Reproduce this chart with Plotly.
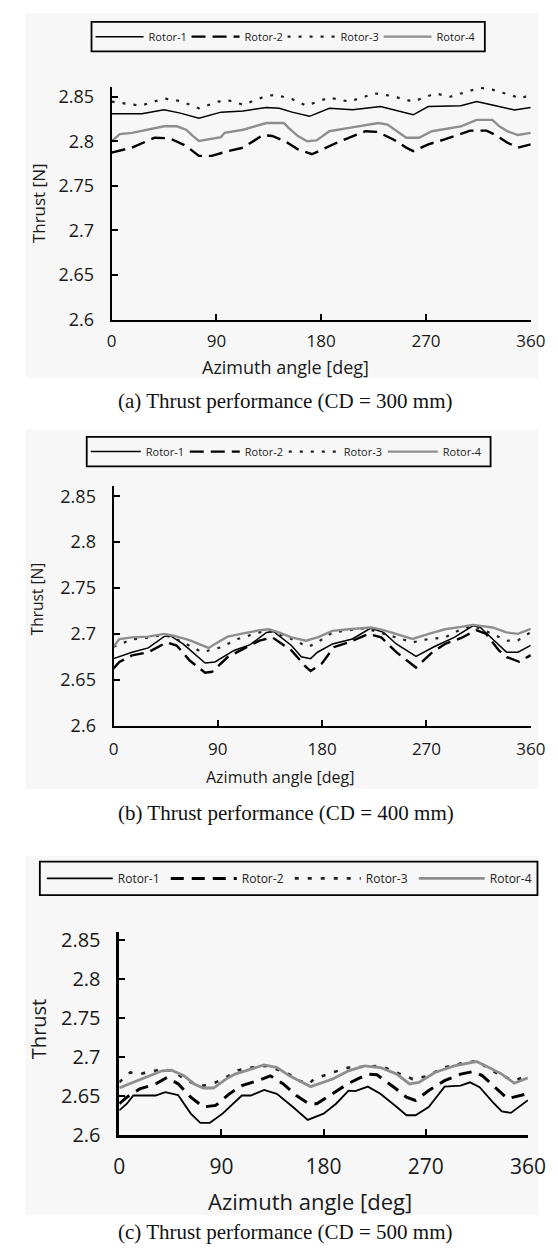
import plotly.graph_objects as go

# ---------------- data ----------------
rotor_names = ["Rotor-1", "Rotor-2", "Rotor-3", "Rotor-4"]
x_tick_vals = [0, 90, 180, 270, 360]
x_tick_text = ["0", "90", "180", "270", "360"]
y_tick_vals = [2.6, 2.65, 2.7, 2.75, 2.8, 2.85]
y_tick_text = ["2.6", "2.65", "2.7", "2.75", "2.8", "2.85"]
captions = ["(a) Thrust performance (CD = 300 mm)",
            "(b) Thrust performance (CD = 400 mm)",
            "(c) Thrust performance (CD = 500 mm)"]
y_titles = ["Thrust [N]", "Thrust [N]", "Thrust"]
x_title = "Azimuth angle [deg]"

# (a) CD = 300 mm
a_r1_deg = [0, 26, 45, 59, 75, 94, 113, 133, 144, 155, 170, 187, 207, 231, 259, 272, 300, 313.5, 327, 340, 346, 360]
a_r1 = [2.8308, 2.8308, 2.8353, 2.8316, 2.826, 2.8327, 2.8341, 2.8378, 2.8371, 2.8327, 2.828, 2.837, 2.8353,
        2.839, 2.8297, 2.839, 2.840, 2.8445, 2.8408, 2.8364, 2.835, 2.838]
a_r2_deg = [0, 17.5, 37, 50, 64, 75, 86, 100, 113, 130, 138, 149, 160, 172, 196, 218, 228.5, 242, 253, 259,
            272, 286, 308, 322, 330, 340, 349, 360]
a_r2 = [2.7873, 2.7929, 2.804, 2.8033, 2.7947, 2.7836, 2.7836, 2.789, 2.7929, 2.807, 2.806, 2.800, 2.791,
        2.7855, 2.800, 2.8113, 2.8105, 2.802, 2.7929, 2.789, 2.7966, 2.8021, 2.812, 2.812, 2.807, 2.7984,
        2.7928, 2.7965]
a_r3_deg = [0, 25, 45, 59, 75, 91.5, 100, 113, 133, 141, 155, 167, 187, 204, 226, 240, 259, 278, 291, 316,
            327, 340, 352, 360]
a_r3 = [2.8445, 2.840, 2.848, 2.8452, 2.837, 2.8445, 2.846, 2.841, 2.851, 2.852, 2.8474, 2.840, 2.849,
        2.8445, 2.8537, 2.851, 2.8445, 2.8537, 2.850, 2.860, 2.858, 2.8526, 2.848, 2.853]
a_r4_deg = [0, 7, 17.5, 31, 45, 56, 64, 70, 75, 94, 97, 113, 133, 148, 152, 160, 168, 176, 187, 204, 229,
            237, 245, 253, 264, 275, 300, 313.5, 327, 333, 340, 349, 360]
a_r4 = [2.800, 2.808, 2.8095, 2.813, 2.8168, 2.8168, 2.813, 2.8058, 2.8003, 2.8047, 2.8095, 2.813, 2.8205,
        2.8205, 2.815, 2.8058, 2.800, 2.801, 2.8113, 2.815, 2.8205, 2.8187, 2.8113, 2.804, 2.804, 2.8113,
        2.8168, 2.824, 2.824, 2.8168, 2.8113, 2.807, 2.8094]

# (b) CD = 400 mm
b_r1_deg = [0, 16, 30, 43.5, 49, 60, 79, 87.5, 104, 118, 132, 138, 153.5, 162, 170, 176, 189, 206, 222, 233,
            244, 261, 277, 294, 310, 316, 330, 339, 349, 360]
b_r1 = [2.673, 2.680, 2.6847, 2.697, 2.698, 2.689, 2.6683, 2.6694, 2.6819, 2.6883, 2.7016, 2.7026, 2.6873,
        2.675, 2.673, 2.680, 2.689, 2.6944, 2.7062, 2.7016, 2.689, 2.6754, 2.6862, 2.6962, 2.7087, 2.7076,
        2.6908, 2.6801, 2.680, 2.6875]
b_r2_deg = [0, 5, 16, 30, 46, 54.5, 65.5, 79, 85, 98.5, 112, 126, 137, 153.5, 166, 170, 180, 190, 203, 220,
            231, 244, 261, 275, 286, 300, 313, 321.5, 332.5, 339.4, 350, 360]
b_r2 = [2.6622, 2.6694, 2.6765, 2.680, 2.6908, 2.6873, 2.6712, 2.6576, 2.6587, 2.6747, 2.6837, 2.6926,
        2.6962, 2.6819, 2.664, 2.6595, 2.668, 2.6855, 2.6908, 2.700, 2.6962, 2.680, 2.6633, 2.680, 2.689,
        2.6955, 2.704, 2.700, 2.6819, 2.6747, 2.6696, 2.6768]
b_r3_deg = [0, 16, 30, 43.5, 57, 76.5, 93, 107, 126, 134, 153.5, 168, 176, 189, 217, 244, 258, 272, 286,
            300, 310, 327, 339, 349, 360]
b_r3 = [2.686, 2.694, 2.696, 2.6991, 2.6926, 2.680, 2.6855, 2.6944, 2.7016, 2.7033, 2.6944, 2.686, 2.6908,
        2.7016, 2.7062, 2.6962, 2.6908, 2.6944, 2.6962, 2.7051, 2.7087, 2.700, 2.6925, 2.693, 2.7018]
b_r4_deg = [0, 5, 16, 30, 43.5, 51.7, 65.5, 82, 90, 98.5, 112, 126, 134, 142.5, 153.5, 166, 176, 189, 203,
            222, 233, 244, 258, 272, 286, 300, 310, 327, 339, 349, 360]
b_r4 = [2.686, 2.6944, 2.6962, 2.697, 2.700, 2.698, 2.6933, 2.6847, 2.6908, 2.697, 2.7005, 2.704, 2.705,
        2.7016, 2.6962, 2.6926, 2.6962, 2.7033, 2.7051, 2.707, 2.7041, 2.700, 2.6944, 2.700, 2.705, 2.7076,
        2.7098, 2.707, 2.7016, 2.700, 2.7054]

# (c) CD = 500 mm
c_r1_deg = [0, 6.7, 12.4, 32, 40.5, 51.8, 63, 71.4, 79.8, 91, 108, 116, 127.6, 138.8, 153, 166, 180, 191,
            202, 208, 219, 230, 244.5, 253, 261, 272.6, 286.6, 300.7, 309, 317.5, 329, 337, 345, 360]
c_r1 = [2.6313, 2.6398, 2.6504, 2.6504, 2.6546, 2.651, 2.6271, 2.6153, 2.6153, 2.6271, 2.6504, 2.6504,
        2.6576, 2.6525, 2.6356, 2.619, 2.6271, 2.6398, 2.6567, 2.6559, 2.6618, 2.6525, 2.6356, 2.625, 2.625,
        2.6356, 2.6618, 2.663, 2.6673, 2.661, 2.6419, 2.630, 2.628, 2.6443]
c_r2_deg = [0, 6.7, 18, 32, 42, 52, 63, 74, 85, 97, 108, 122, 133, 144.5, 156, 167, 174, 188, 202, 219, 227,
            242, 253, 261, 272.6, 286.6, 300.7, 312, 320, 331, 342, 360]
c_r2 = [2.6398, 2.6483, 2.6588, 2.6652, 2.6736, 2.6652, 2.6483, 2.6356, 2.6377, 2.6525, 2.6631, 2.6694,
        2.6757, 2.6652, 2.6504, 2.6398, 2.6398, 2.6525, 2.666, 2.6779, 2.677, 2.661, 2.6483, 2.644, 2.6567,
        2.6694, 2.6779, 2.6812, 2.6757, 2.661, 2.6464, 2.6527]
c_r3_deg = [0, 9.6, 18, 37.7, 46, 63, 74, 85, 94, 105, 116, 130, 147, 158.5, 167, 171.5, 188, 202, 230,
            244.5, 258.5, 272.6, 283.8, 300.7, 314.7, 328.8, 337, 348, 360]
c_r3 = [2.6673, 2.680, 2.6779, 2.6842, 2.6821, 2.6673, 2.663, 2.6673, 2.6736, 2.683, 2.6863, 2.6884, 2.680,
        2.6694, 2.6652, 2.6715, 2.680, 2.6863, 2.6884, 2.680, 2.6715, 2.6757, 2.6855, 2.6914, 2.6948, 2.682,
        2.6757, 2.6696, 2.6759]
c_r4_deg = [0, 12.4, 23.6, 37.7, 46, 57, 66, 74, 83, 94, 102, 116, 127.6, 139, 150, 158.5, 168.6, 188, 202,
            216, 230, 244.5, 255.7, 264, 278, 295, 314.7, 323, 337, 348, 360]
c_r4 = [2.660, 2.6673, 2.6736, 2.6821, 2.683, 2.6757, 2.6652, 2.660, 2.660, 2.6715, 2.6779, 2.6842, 2.6897,
        2.6863, 2.6757, 2.6694, 2.6618, 2.6715, 2.6821, 2.6884, 2.6863, 2.6779, 2.6652, 2.6673, 2.680,
        2.6884, 2.694, 2.6884, 2.6779, 2.6662, 2.673]

# ---------------- layout helpers ----------------
W, H = 558, 1256
FONT = "Open Sans"
SERIF = "Liberation Serif"


def fx(px):
    return px / W


def fy(py):
    return 1 - py / H


panels = [
    dict(data=[(a_r1_deg, a_r1), (a_r2_deg, a_r2), (a_r3_deg, a_r3), (a_r4_deg, a_r4)],
         x0=102, x1=540, ytop=75, ybot=311, tick=18, xtick=17, ytitle=17, xtitle=18,
         xstand=5, ytitle_pos=(25, 193), xtitle_pos=(284, 359), cap_pos=(284, 394),
         bg=(12, 0, 548, 370), box=(81, 9, 492, 39), legfont=11,
         leg_start=85, pitch=101, itemw=48,
         lw=(1.5, 2.4, 2.2, 2.4), dash2="14px,7px", dash3="3px,8px", axw=2),
    dict(data=[(b_r1_deg, b_r1), (b_r2_deg, b_r2), (b_r3_deg, b_r3), (b_r4_deg, b_r4)],
         x0=104, x1=540, ytop=480, ybot=723, tick=18, xtick=17, ytitle=15.5, xtitle=16,
         xstand=7, ytitle_pos=(25, 594), xtitle_pos=(278, 775), cap_pos=(284, 812),
         bg=(12, 423, 548, 787), box=(76, 430, 498, 460), legfont=11,
         leg_start=80, pitch=104, itemw=50,
         lw=(1.5, 2.4, 2.2, 2.4), dash2="14px,7px", dash3="3px,8px", axw=2),
    dict(data=[(c_r1_deg, c_r1), (c_r2_deg, c_r2), (c_r3_deg, c_r3), (c_r4_deg, c_r4)],
         x0=110, x1=537, ytop=932, ybot=1138, tick=20, xtick=21, ytitle=20, xtitle=22,
         xstand=11, ytitle_pos=(25, 1031), xtitle_pos=(309, 1205), cap_pos=(284, 1237),
         bg=(12, 855, 548, 1220), box=(27, 861, 547, 895), legfont=12,
         leg_start=34, pitch=129, itemw=66,
         lw=(1.8, 3.0, 2.6, 2.8), dash2="13px,8px", dash3="4px,9px", axw=2.5),
]

fig = go.Figure()
shapes, annotations = [], []
layout = {}

for i, p in enumerate(panels):
    k = "" if i == 0 else str(i + 1)
    leg = "legend" + k
    colors = ["black", "black", "#222222", "#8e8e8e"]
    dashes = ["solid", p["dash2"], p["dash3"], "solid"]
    for j, (xs, ys) in enumerate(p["data"]):
        fig.add_trace(go.Scatter(
            x=xs, y=ys, mode="lines", name=rotor_names[j],
            xaxis="x" + k, yaxis="y" + k, legend=leg,
            line=dict(color=colors[j], width=p["lw"][j], dash=dashes[j]),
        ))
    layout["xaxis" + k] = dict(
        domain=[fx(p["x0"]), fx(p["x1"])], range=[0, 360], anchor="y" + k,
        tickvals=x_tick_vals, ticktext=x_tick_text, ticks="inside", ticklen=6,
        tickwidth=1.5, tickcolor="black", showline=True, linecolor="black",
        linewidth=p["axw"], showgrid=False, zeroline=False,
        tickfont=dict(family=FONT, size=p["xtick"], color="#1a1a1a"),
        ticklabelstandoff=p["xstand"],
    )
    layout["yaxis" + k] = dict(
        domain=[fy(p["ybot"]), fy(p["ytop"])], range=[2.6, 2.861], anchor="x" + k,
        tickvals=y_tick_vals, ticktext=y_tick_text, ticks="inside", ticklen=6,
        tickwidth=1.5, tickcolor="black", showline=True, linecolor="black",
        linewidth=p["axw"], showgrid=False, zeroline=False,
        tickfont=dict(family=FONT, size=p["tick"], color="#1a1a1a"),
        ticklabelstandoff=12,
    )
    bx0, by0, bx1, by1 = p["box"]
    layout[leg] = dict(
        orientation="h", x=fx(p["leg_start"] - 5), xanchor="left",
        y=fy((by0 + by1) / 2), yanchor="middle",
        bgcolor="rgba(0,0,0,0)", borderwidth=0, itemwidth=p["itemw"],
        entrywidth=p["pitch"] - p["itemw"] - 20, entrywidthmode="pixels", tracegroupgap=0,
        font=dict(family=FONT, size=p["legfont"], color="#222222"),
    )
    gx0, gy0, gx1, gy1 = p["bg"]
    shapes.append(dict(type="rect", xref="paper", yref="paper", x0=fx(gx0), x1=fx(gx1),
                       y0=fy(gy1), y1=fy(gy0), fillcolor="#f7f7f7", line=dict(width=0),
                       layer="below"))
    shapes.append(dict(type="rect", xref="paper", yref="paper", x0=fx(bx0), x1=fx(bx1),
                       y0=fy(by1), y1=fy(by0), fillcolor="rgba(0,0,0,0)",
                       line=dict(color="black", width=1.8), layer="above"))
    annotations.append(dict(text=y_titles[i], x=fx(p["ytitle_pos"][0]), y=fy(p["ytitle_pos"][1]),
                            xref="paper", yref="paper", showarrow=False, textangle=-90,
                            xanchor="center", yanchor="middle",
                            font=dict(family=FONT, size=p["ytitle"], color="#1a1a1a")))
    annotations.append(dict(text=x_title, x=fx(p["xtitle_pos"][0]), y=fy(p["xtitle_pos"][1]),
                            xref="paper", yref="paper", showarrow=False,
                            xanchor="center", yanchor="middle",
                            font=dict(family=FONT, size=p["xtitle"], color="#1a1a1a")))
    annotations.append(dict(text=captions[i], x=fx(p["cap_pos"][0]), y=fy(p["cap_pos"][1]),
                            xref="paper", yref="paper", showarrow=False,
                            xanchor="center", yanchor="middle",
                            font=dict(family=SERIF, size=21, color="#111111")))

fig.update_layout(
    width=W, height=H, margin=dict(l=0, r=0, t=0, b=0),
    paper_bgcolor="white", plot_bgcolor="rgba(0,0,0,0)",
    font=dict(family=FONT), showlegend=True,
    shapes=shapes, annotations=annotations, **layout,
)

fig.write_html("out.html")
